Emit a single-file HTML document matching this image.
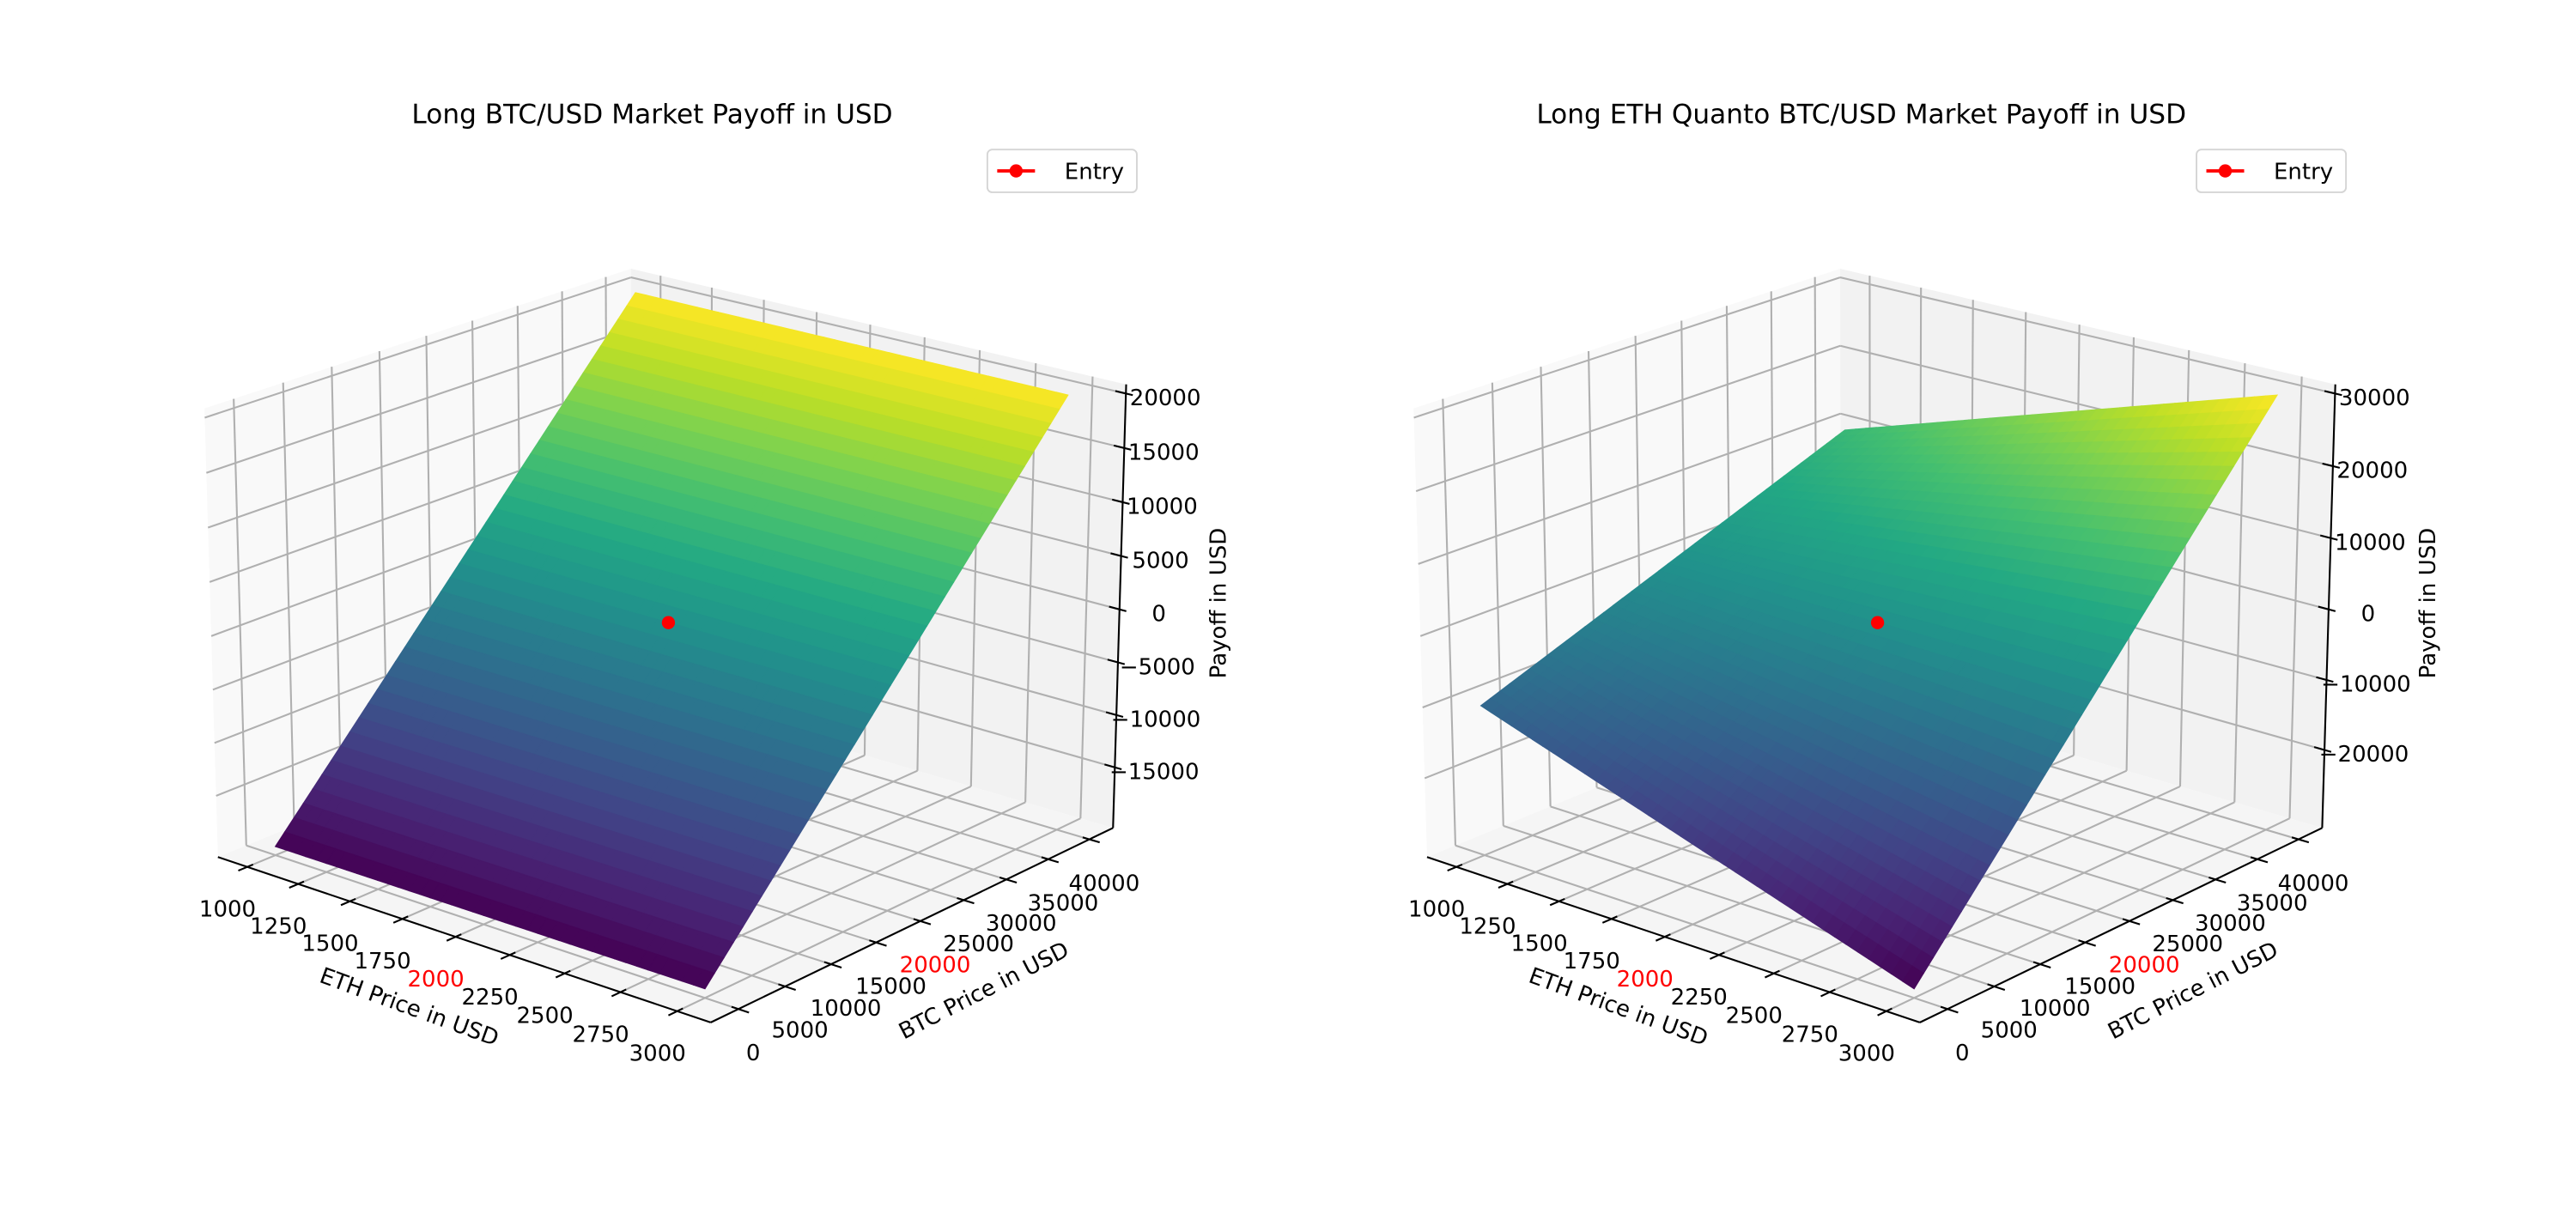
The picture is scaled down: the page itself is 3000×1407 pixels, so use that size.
<!DOCTYPE html>
<html><head><meta charset="utf-8"><style>
html,body{margin:0;padding:0;background:#fff;}
svg{display:block;}
text{font-family:"DejaVu Sans","Liberation Sans",sans-serif;}
</style></head><body>
<svg id="fig" width="3000" height="1407" viewBox="0 0 1568 735" preserveAspectRatio="none" xmlns="http://www.w3.org/2000/svg">
<rect width="1568" height="735" fill="#fff"/>
<g id="left"></g>
<g id="right"></g>
<text x="397" y="75" font-size="16.3" text-anchor="middle">Long BTC/USD Market Payoff in USD</text>
<text x="1133" y="75" font-size="16.3" text-anchor="middle">Long ETH Quanto BTC/USD Market Payoff in USD</text>
<g>
<rect x="601" y="91" width="91" height="26" rx="3" fill="#fff" fill-opacity="0.8" stroke="#d5d5d5" stroke-width="1"/>
<line x1="607" y1="104" x2="630" y2="104" stroke="#f00" stroke-width="2"/>
<circle cx="618.5" cy="104" r="4" fill="#f00"/>
<text x="648" y="109" font-size="13.6">Entry</text>
</g>
<g>
<rect x="1337" y="91" width="91" height="26" rx="3" fill="#fff" fill-opacity="0.8" stroke="#d5d5d5" stroke-width="1"/>
<line x1="1343" y1="104" x2="1366" y2="104" stroke="#f00" stroke-width="2"/>
<circle cx="1354.5" cy="104" r="4" fill="#f00"/>
<text x="1384" y="109" font-size="13.6">Entry</text>
</g>
</svg>
<script>
const ethPrices=[1000,1200,1400,1600,1800,2000,2200,2400,2600,2800,3000];
const btcPrices=[0,4000,8000,12000,16000,20000,24000,28000,32000,36000,40000];
const longBtcPayoff=[
[-20000,-16000,-12000,-8000,-4000,0,4000,8000,12000,16000,20000],
[-20000,-16000,-12000,-8000,-4000,0,4000,8000,12000,16000,20000],
[-20000,-16000,-12000,-8000,-4000,0,4000,8000,12000,16000,20000],
[-20000,-16000,-12000,-8000,-4000,0,4000,8000,12000,16000,20000],
[-20000,-16000,-12000,-8000,-4000,0,4000,8000,12000,16000,20000],
[-20000,-16000,-12000,-8000,-4000,0,4000,8000,12000,16000,20000],
[-20000,-16000,-12000,-8000,-4000,0,4000,8000,12000,16000,20000],
[-20000,-16000,-12000,-8000,-4000,0,4000,8000,12000,16000,20000],
[-20000,-16000,-12000,-8000,-4000,0,4000,8000,12000,16000,20000],
[-20000,-16000,-12000,-8000,-4000,0,4000,8000,12000,16000,20000],
[-20000,-16000,-12000,-8000,-4000,0,4000,8000,12000,16000,20000]];
const quantoPayoff=[
[-10000,-8000,-6000,-4000,-2000,0,2000,4000,6000,8000,10000],
[-12000,-9600,-7200,-4800,-2400,0,2400,4800,7200,9600,12000],
[-14000,-11200,-8400,-5600,-2800,0,2800,5600,8400,11200,14000],
[-16000,-12800,-9600,-6400,-3200,0,3200,6400,9600,12800,16000],
[-18000,-14400,-10800,-7200,-3600,0,3600,7200,10800,14400,18000],
[-20000,-16000,-12000,-8000,-4000,0,4000,8000,12000,16000,20000],
[-22000,-17600,-13200,-8800,-4400,0,4400,8800,13200,17600,22000],
[-24000,-19200,-14400,-9600,-4800,0,4800,9600,14400,19200,24000],
[-26000,-20800,-15600,-10400,-5200,0,5200,10400,15600,20800,26000],
[-28000,-22400,-16800,-11200,-5600,0,5600,11200,16800,22400,28000],
[-30000,-24000,-18000,-12000,-6000,0,6000,12000,18000,24000,30000]];
const xTicks=[1000,1250,1500,1750,2000,2250,2500,2750,3000];
const yTicks=[0,5000,10000,15000,20000,25000,30000,35000,40000];
const zTicksLeft=[-15000,-10000,-5000,0,5000,10000,15000,20000];
const zTicksRight=[-20000,-10000,0,10000,20000,30000];
const entryPoint=[2000,20000,0];
const entryEth=2000, entryBtc=20000;

const NS="http://www.w3.org/2000/svg";
const ASP=[4,4,3].map(v=>v*1.8294640721620434/Math.sqrt(41));
const cross=(a,b)=>[a[1]*b[2]-a[2]*b[1],a[2]*b[0]-a[0]*b[2],a[0]*b[1]-a[1]*b[0]];
const nrm=a=>{const l=Math.hypot(...a);return a.map(v=>v/l);};
const dot=(a,b)=>a[0]*b[0]+a[1]*b[1]+a[2]*b[2];
const pad=l=>{const d=(l[1]-l[0])/48;return [l[0]-d,l[1]+d];};
let CAM=null;
function setCam(eDeg,aDeg){
  const el=eDeg*Math.PI/180, az=aDeg*Math.PI/180;
  const PS=[Math.cos(el)*Math.cos(az),Math.cos(el)*Math.sin(az),Math.sin(el)];
  const EYE=ASP.map((r,i)=>r/2+10*PS[i]);
  const W=nrm(PS), U=nrm(cross([0,0,1],W)), V=cross(W,U);
  CAM={EYE,W,U,V};
}
function rawProj(bx,by,bz,x,y,z){
  const p=[(x-bx[0])/(bx[1]-bx[0])*ASP[0],(y-by[0])/(by[1]-by[0])*ASP[1],(z-bz[0])/(bz[1]-bz[0])*ASP[2]];
  const d=p.map((v,i)=>v-CAM.EYE[i]);const dep=-dot(CAM.W,d);
  return [dot(CAM.U,d)/dep,dot(CAM.V,d)/dep,dep];
}
const cbx=pad([900,3100]),cby=pad([-2000,42000]),cbz=pad([-20000,20000]);
const F=(f,l)=>l[0]+f*(l[1]-l[0]);
const anchors=[
 [F(0,cbx),F(0,cby),F(0,cbz),134.5,521],[F(1,cbx),F(0,cby),F(0,cbz),431,623],
 [F(1,cbx),F(1,cby),F(0,cbz),681.6,503],[F(1,cbx),F(1,cby),F(1,cbz),691,231],
 [F(0,cbx),F(0,cby),F(1,cbz),126.5,252.8],[F(0,cbx),F(1,cby),F(1,cbz),383.6,167.3],
 [1000,0,-20000,170,513],[3000,0,-20000,428,602],[1000,40000,20000,383,175],[3000,40000,20000,646,237],[2000,20000,0,402,382]];
function fit(idx,sidx){
  const r=anchors.map(a=>rawProj(cbx,cby,cbz,a[0],a[1],a[2])[idx]);const s=anchors.map(a=>a[sidx]);
  const n=r.length,mr=r.reduce((a,b)=>a+b)/n,ms=s.reduce((a,b)=>a+b)/n;
  let c=0,v=0;for(let i=0;i<n;i++){c+=(r[i]-mr)*(s[i]-ms);v+=(r[i]-mr)**2;}
  const k=c/v;let err=0;for(let i=0;i<n;i++)err+=(k*(r[i]-mr)+ms-s[i])**2;
  return [k,ms-k*mr,err];
}
let best=null;
for(let e=10;e<=40;e+=0.5)for(let a=-75;a<=-35;a+=0.5){
  setCam(e,a);const fx=fit(0,3),fy=fit(1,4);const err=fx[2]+fy[2];
  if(!best||err<best.err)best={e,a,err,fx,fy};
}
setCam(best.e,best.a);
const FX=best.fx,FY=best.fy;

const VIR=["#440154","#482475","#414487","#355f8d","#2a788e","#21918c","#22a884","#44bf70","#7ad151","#bddf26","#fde725"];
function viridis(t){t=Math.max(0,Math.min(1,t))*10;const i=Math.min(9,Math.floor(t)),f=t-i;
  const a=VIR[i],b=VIR[i+1];const c=[1,3,5].map(k=>Math.round(parseInt(a.substr(k,2),16)*(1-f)+parseInt(b.substr(k,2),16)*f));
  return "rgb("+c.join(",")+")";}

function mk(parent,tag,attrs){const e=document.createElementNS(NS,tag);for(const k in attrs)e.setAttribute(k,attrs[k]);parent.appendChild(e);return e;}

function drawChart(gid,dx,zLim,zTicks,payoff){
  const g=document.getElementById(gid);
  const bx=pad([900,3100]),by=pad([-2000,42000]),bz=pad(zLim);
  const P=(x,y,z)=>{const r=rawProj(bx,by,bz,x,y,z);return [FX[0]*r[0]+FX[1]+dx,FY[0]*r[1]+FY[1],r[2]];};
  const pts=a=>a.map(p=>{const q=P(...p);return q[0].toFixed(2)+","+q[1].toFixed(2);}).join(" ");
  let e;
  e=mk(g,"polygon",{points:pts([[bx[0],by[0],bz[0]],[bx[0],by[1],bz[0]],[bx[0],by[1],bz[1]],[bx[0],by[0],bz[1]]]),fill:"#f9f9f9"});
  
  
  e=mk(g,"polygon",{points:pts([[bx[0],by[1],bz[0]],[bx[1],by[1],bz[0]],[bx[1],by[1],bz[1]],[bx[0],by[1],bz[1]]]),fill:"#f2f2f2"});
  
  
  e=mk(g,"polygon",{points:pts([[bx[0],by[0],bz[0]],[bx[1],by[0],bz[0]],[bx[1],by[1],bz[0]],[bx[0],by[1],bz[0]]]),fill:"#f5f5f5"});
  
  
  const line=(a,b,col,w,name)=>{const p=P(...a),q=P(...b);const l=mk(g,"line",{x1:p[0],y1:p[1],x2:q[0],y2:q[1],stroke:col,"stroke-width":w});
    
    
    return l;};
  const GC="#b0b0b0",GW=1.1;
  xTicks.forEach(t=>{line([t,by[0],bz[0]],[t,by[1],bz[0]],GC,GW,'x-gridline');line([t,by[1],bz[0]],[t,by[1],bz[1]],GC,GW,'x-gridline');});
  yTicks.forEach(t=>{line([bx[0],t,bz[0]],[bx[1],t,bz[0]],GC,GW,'y-gridline');line([bx[0],t,bz[0]],[bx[0],t,bz[1]],GC,GW,'y-gridline');});
  zTicks.forEach(t=>{line([bx[0],by[0],t],[bx[0],by[1],t],GC,GW,'z-gridline');line([bx[0],by[1],t],[bx[1],by[1],t],GC,GW,'z-gridline');});
  line([bx[0],by[0],bz[0]],[bx[1],by[0],bz[0]],"#000",1.1,'x-axis-line');
  line([bx[1],by[0],bz[0]],[bx[1],by[1],bz[0]],"#000",1.1,'y-axis-line');
  line([bx[1],by[1],bz[0]],[bx[1],by[1],bz[1]],"#000",1.1,'z-axis-line');
  const ry=by[1]-by[0],rx=bx[1]-bx[0];
  const label=(x,y,txt,col,name)=>{const t=mk(g,"text",{x:x,y:y,"font-size":"13.6","text-anchor":"middle","dominant-baseline":"central",fill:col});t.textContent=txt;
    
    };
  xTicks.forEach(t=>{line([t,by[0]+0.013*ry,bz[0]],[t,by[0]-0.02*ry,bz[0]],"#000",1.1,'x-tick');const p=P(t,by[0],bz[0]);label(p[0]-12,p[1]+26,String(t),t===entryEth?"#f00":"#000",'x-tick-label');});
  yTicks.forEach(t=>{line([bx[1]-0.013*rx,t,bz[0]],[bx[1]+0.02*rx,t,bz[0]],"#000",1.1,'y-tick');const p=P(bx[1],t,bz[0]);label(p[0]+9,p[1]+27,String(t),t===entryBtc?"#f00":"#000",'y-tick-label');});
  zTicks.forEach(t=>{line([bx[1]-0.02*rx,by[1],t],[bx[1]+0.013*rx,by[1],t],"#000",1.1,'z-tick');const p=P(bx[1],by[1],t);label(p[0]+24,p[1]+3,t<0?"\u2212"+Math.abs(t):String(t),"#000",'z-tick-label');});
  const alab=(x,y,rot,txt,name)=>{const t=mk(g,"text",{x:0,y:0,"font-size":"13.6","text-anchor":"middle","dominant-baseline":"central",transform:`translate(${x},${y}) rotate(${rot})`});t.textContent=txt;
    
    };
  alab(249+dx,613,20,"ETH Price in USD",'x-axis-title');
  alab(599+dx,603,-27,"BTC Price in USD",'y-axis-title');
  alab(742+dx,367,-90,"Payoff in USD",'z-axis-title');
  let zmin=Infinity,zmax=-Infinity;payoff.forEach(r=>r.forEach(v=>{zmin=Math.min(zmin,v);zmax=Math.max(zmax,v);}));
  const S=4,quads=[];
  for(let i=0;i<ethPrices.length-1;i++)for(let j=0;j<btcPrices.length-1;j++){
    for(let a=0;a<S;a++)for(let b=0;b<S;b++){
      const cs=[[a,b],[a+1,b],[a+1,b+1],[a,b+1]].map(([u,v])=>{const fu=u/S,fv=v/S;
        const x=ethPrices[i]+(ethPrices[i+1]-ethPrices[i])*fu,y=btcPrices[j]+(btcPrices[j+1]-btcPrices[j])*fv;
        const z=payoff[i][j]*(1-fu)*(1-fv)+payoff[i+1][j]*fu*(1-fv)+payoff[i+1][j+1]*fu*fv+payoff[i][j+1]*(1-fu)*fv;return [x,y,z];});
      const zavg=cs.reduce((s,c)=>s+c[2],0)/4;
      const pp=cs.map(c=>P(...c));const dep=pp.reduce((s,q)=>s+q[2],0)/4;
      quads.push({pp,zavg,dep});
    }}
  quads.sort((a,b)=>b.dep-a.dep);
  const sg=mk(g,"g",{});
  
  
  quads.forEach(q=>{const c=viridis((q.zavg-zmin)/(zmax-zmin));
    const p=mk(sg,"polygon",{points:q.pp.map(v=>v[0].toFixed(2)+","+v[1].toFixed(2)).join(" "),fill:c,stroke:c,"stroke-width":0.6});
    
    });
  const ep=P(entryPoint[0],entryPoint[1],entryPoint[2]);
  const dot=mk(g,"circle",{cx:ep[0],cy:ep[1],r:4,fill:"#f00"});
  
  
}
drawChart("left",0,[-20000,20000],zTicksLeft,longBtcPayoff);
drawChart("right",736,[-30000,30000],zTicksRight,quantoPayoff);
</script>
</body></html>
